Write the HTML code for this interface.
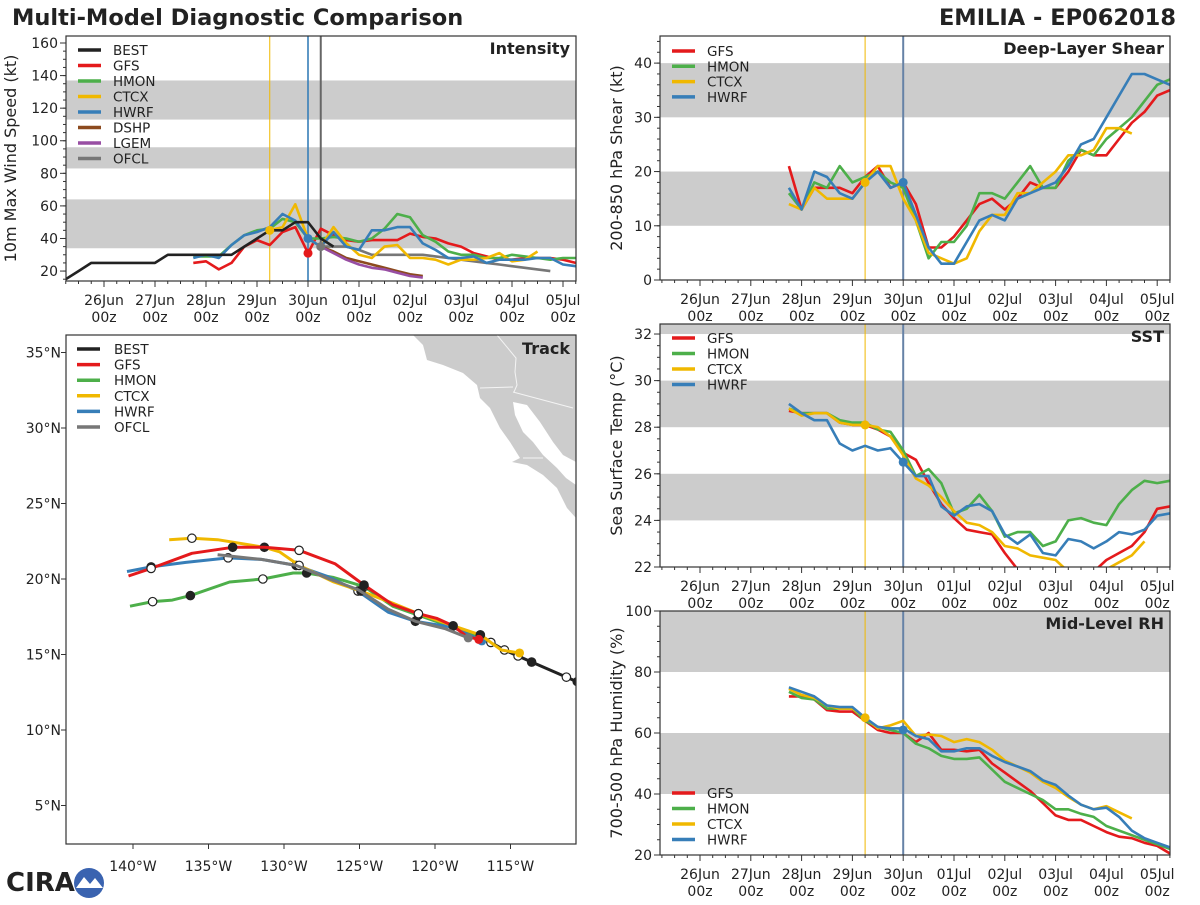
<!DOCTYPE html>
<html><head><meta charset="utf-8">
<style>
html,body{margin:0;padding:0;background:#fff;}
svg text{font-family:"DejaVu Sans","Liberation Sans",sans-serif;fill:#222;}
</style></head>
<body>
<svg id="chart" width="1200" height="900" viewBox="0 0 1200 900" xmlns="http://www.w3.org/2000/svg">
<rect width="1200" height="900" fill="#fff"/>
<text x="12" y="25" font-size="22.5" font-weight="bold" fill="#333">Multi-Model Diagnostic Comparison</text>
<text x="1176" y="25" font-size="22.5" font-weight="bold" text-anchor="end" fill="#333">EMILIA - EP062018</text>
<g id="logo">
<text x="6" y="891" font-size="26" font-weight="bold" fill="#2b4a8c" font-family="Liberation Serif,serif">CIRA</text>
<circle cx="89" cy="883" r="15" fill="#3a63b0"/>
<path d="M76,888 L84,877 L90,884 L95,878 L103,888 Z" fill="#fff"/>
</g>
</svg>
<script>
const NS='http://www.w3.org/2000/svg';
const svg=document.getElementById('chart');
function mk(tag,attrs,parent){const e=document.createElementNS(NS,tag);for(const k in attrs)e.setAttribute(k,attrs[k]);(parent||svg).appendChild(e);return e;}

// ---------- DATA ----------
const dateLabels=['26Jun','27Jun','28Jun','29Jun','30Jun','01Jul','02Jul','03Jul','04Jul','05Jul'];
const modelColors={BEST:'#222222',GFS:'#e41a1c',HMON:'#4daf4a',CTCX:'#f0b800',HWRF:'#377eb8',DSHP:'#8c4a1e',LGEM:'#984ea3',OFCL:'#777777'};
// Intensity (kt), 6-hourly, start day (0 = 26Jun 00z)
const intStart={BEST:-0.75,GFS:1.75,HMON:1.75,CTCX:3.25,HWRF:1.75,DSHP:4.25,LGEM:4.25,OFCL:4.25};
const intBEST=[15,20,25,25,25,25,25,25,30,30,30,30,30,30,35,40,45,45,50,50,40,35];
const intGFS=[25,26,21,25,35,39,36,44,47,31,46,42,39,38,39,39,39,43,41,40,37,35,31,29,27,27,28,28,28,27,25,24];
const intHMON=[29,29,29,36,42,45,46,52,50,40,40,41,40,38,40,46,55,53,42,38,32,30,30,28,28,30,29,28,27,28,28];
const intCTCX=[45,47,61,40,35,47,37,30,28,35,36,28,28,27,24,27,27,28,31,26,27,32];
const intHWRF=[28,30,28,36,42,44,47,55,51,40,35,44,35,33,45,45,47,47,37,33,28,28,29,25,27,27,27,28,28,24,23];
const intDSHP=[35,32,28,26,24,22,20,18,17];
const intLGEM=[35,31,27,24,22,21,19,17,16];
const intOFCL=[35,35,35,33,30,30,30,30,30,29,28,27,26,25,24,23,22,21,20];
const intBands=[[34,64],[83,96],[113,137]];
const intTicks=[20,40,60,80,100,120,140,160];
// Shear (kt), start 1.75
const shrGFS=[21,13,17,17,17,16,19,21,17,18,14,6,6,8,11,14,15,13,15,18,17,17,20,24,23,23,26,29,31,34,35];
const shrHMON=[16,13,18,17,21,18,19,20,18,17,11,4,7,7,10,16,16,15,18,21,17,17,22,24,23,26,28,30,33,36,37];
const shrCTCX=[14,13,17,15,15,15,18,21,21,15,11,5,4,3,4,9,12,12,16,16,18,20,23,23,24,28,28,27];
const shrHWRF=[17,13,20,19,16,15,18,20,17,18,12,6,3,3,7,11,12,11,15,16,17,18,21,25,26,30,34,38,38,37,36];
const shrBands=[[10,20],[30,40]];
const shrTicks=[0,10,20,30,40];
// SST (C), start 1.75
const sstGFS=[28.7,28.6,28.6,28.6,28.2,28.1,28.1,27.9,27.6,26.9,26.6,25.6,24.7,24.1,23.6,23.5,23.4,22.6,21.9,21.6,21.4,21.3,21.3,21.5,21.8,22.3,22.6,22.9,23.5,24.5,24.6];
const sstHMON=[28.8,28.6,28.6,28.6,28.3,28.2,28.2,27.9,27.8,27.0,25.9,26.2,25.6,24.3,24.5,25.1,24.4,23.3,23.5,23.5,22.9,23.1,24.0,24.1,23.9,23.8,24.7,25.3,25.7,25.6,25.7];
const sstCTCX=[28.8,28.5,28.6,28.6,28.2,28.1,28.1,28.0,27.6,26.8,25.8,25.5,25.0,24.4,23.9,23.8,23.5,22.9,22.8,22.5,22.4,22.3,21.8,21.5,21.6,21.9,22.2,22.5,23.1];
const sstHWRF=[29.0,28.6,28.3,28.3,27.3,27.0,27.2,27.0,27.1,26.5,25.9,25.9,24.6,24.2,24.6,24.7,24.4,23.4,23.0,23.4,22.6,22.5,23.2,23.1,22.8,23.1,23.5,23.4,23.6,24.2,24.3];
const sstBands=[[24,26],[28,30],[32,34]];
const sstTicks=[22,24,26,28,30,32];
// RH (%), start 1.75
const rhGFS=[72,72,71,67.5,67,67,64,61,60,60,57,60,54.5,54.5,54,54.5,50,47,44,41,37,33,31.5,31.5,29.5,27.5,26,25.5,24,23,20.5];
const rhHMON=[73.5,71.5,71,68,68,68,64,62,61,60,56.5,55,52.5,51.5,51.5,52,48,44,42,40,38,35,35,33.5,32.5,29.5,28,26.5,25,23.5,22];
const rhCTCX=[74.5,72.5,71.5,69,68,68,65,61.5,62.5,64,59,59.5,59,57,58,57,54.5,51,49,47,44,42,39,36.5,35,36,34,32];
const rhHWRF=[75,73.5,72,69,68.5,68.5,65,62,61.5,61.5,59,58,54,54,55,55,52.5,50.5,49,47.5,44.5,43,39.5,36.5,35,35.5,32.5,28,25.5,24,22.5];
const rhBands=[[40,60],[80,100]];
const rhTicks=[20,40,60,80,100];
// Track (deg W, deg N)
const trkBESTlon=[110.6,111.3,113.6,114.5,115.4,116.3,117.0];
const trkBESTlat=[13.2,13.5,14.5,14.9,15.3,15.8,16.3];
const trkGFSlon=[117.1,117.9,118.8,119.9,121.1,122.8,124.7,126.6,129.0,131.3,133.4,136.1,138.8,140.3];
const trkGFSlat=[16.0,16.2,16.9,17.4,17.7,18.3,19.6,21.0,21.9,22.1,22.1,21.7,20.7,20.2];
const trkHMONlon=[117.0,118.8,121.1,122.8,124.7,126.7,128.5,129.4,131.4,133.6,136.2,137.4,138.7,140.2];
const trkHMONlat=[16.1,16.8,17.6,18.2,19.5,20.1,20.4,20.4,20.0,19.8,18.9,18.6,18.5,18.2];
const trkCTCXlon=[114.4,115.6,117.0,118.8,121.1,122.8,124.9,126.7,129.0,130.3,131.3,134.4,136.1,137.6];
const trkCTCXlat=[15.1,15.3,16.3,16.9,17.7,18.4,19.2,19.8,20.9,21.8,22.1,22.6,22.7,22.6];
const trkHWRFlon=[116.9,118.8,121.3,123.1,125.1,127.2,129.2,131.5,133.7,136.5,138.8,140.4];
const trkHWRFlat=[15.9,16.8,17.2,17.8,19.2,20.2,20.9,21.3,21.4,21.1,20.8,20.5];
const trkOFCLlon=[117.8,119.3,121.3,123.1,125.1,127.0,129.2,131.5,134.4];
const trkOFCLlat=[16.1,16.7,17.2,18.0,19.3,20.0,20.9,21.3,21.6];
const lonTicks=[140,135,130,125,120,115];
const latTicks=[5,10,15,20,25,30,35];

// ---------- TIME PANELS ----------
function timePanel(p){
  const g=mk('g',{});
  
  
  const X=d=>p.dx0+d*p.pxDay;
  const Y=v=>p.y1-(v-p.vmin)/(p.vmax-p.vmin)*(p.y1-p.y0);
  const cid='clip-'+p.name;
  const cp=mk('clipPath',{id:cid},g);mk('rect',{x:p.x0,y:p.y0,width:p.x1-p.x0,height:p.y1-p.y0},cp);
  p.bands.forEach(b=>{const top=Math.max(Y(b[1]),p.y0);const r=mk('rect',{x:p.x0,y:top,width:p.x1-p.x0,height:Math.min(Y(b[0]),p.y1)-top,fill:'#cccccc'},g);
    });
  p.vlines.forEach(v=>{const l=mk('line',{x1:X(v[0]),x2:X(v[0]),y1:p.y0,y2:p.y1,stroke:v[1],'stroke-width':v[2]},g);
    });
  const sg=mk('g',{'clip-path':'url(#'+cid+')'},g);
  p.series.forEach(s=>{
    const pts=s.vals.map((v,i)=>X(s.start+i*0.25).toFixed(1)+','+Y(v).toFixed(1)).join(' ');
    const pl=mk('polyline',{points:pts,fill:'none',stroke:modelColors[s.key],'stroke-width':2.6,'stroke-linejoin':'round'},sg);
    
    
  });
  p.dots.forEach(d=>{const c=mk('circle',{cx:X(d[0]),cy:Y(d[1]),r:4.5,fill:modelColors[d[2]]},sg);
    });
  mk('rect',{x:p.x0,y:p.y0,width:p.x1-p.x0,height:p.y1-p.y0,fill:'none',stroke:'#333','stroke-width':1.2},g);
  p.yticks.forEach(v=>{const y=Y(v);mk('line',{x1:p.x0-6,x2:p.x0,y1:y,y2:y,stroke:'#333'},g);
    const t=mk('text',{x:p.x0-8,y:y+5,'font-size':14,'text-anchor':'end'},g);t.textContent=v;
    });
  for(let v=p.vmin-(p.vmin%p.minor);v<=p.vmax;v+=p.minor){if(v<p.vmin)continue;const y=Y(v);mk('line',{x1:p.x0-3,x2:p.x0,y1:y,y2:y,stroke:'#333'},g);}
  for(let d=-0.75;d<=9.26;d+=0.25){const x=X(d);const major=Math.abs(d-Math.round(d))<0.01;
    mk('line',{x1:x,x2:x,y1:p.y1,y2:p.y1+(major?6:3),stroke:'#333'},g);}
  dateLabels.forEach((lab,i)=>{const x=X(i);
    const t1=mk('text',{x:x,y:p.y1+24,'font-size':14,'text-anchor':'middle'},g);t1.textContent=lab;
    
    const t2=mk('text',{x:x,y:p.y1+41,'font-size':14,'text-anchor':'middle'},g);t2.textContent='00z';
    });
  const yl=mk('text',{x:0,y:0,'font-size':16,'text-anchor':'middle',transform:'translate('+p.ylx+','+((p.y0+p.y1)/2)+') rotate(-90)'},g);
  yl.textContent=p.ylabel;
  const tt=mk('text',{x:p.x1-6,y:p.y0+18,'font-size':16,'font-weight':'bold','text-anchor':'end',fill:'#333'},g);
  tt.textContent=p.title;
  p.legend.forEach((k,i)=>{const y=p.legY+i*p.legDy;
    const l=mk('line',{x1:p.x0+12,x2:p.x0+35,y1:y,y2:y,stroke:modelColors[k],'stroke-width':3.5},g);
    
    const t=mk('text',{x:p.x0+47,y:y+5,'font-size':13.5},g);t.textContent=k;
    });
}

const L={x0:66,x1:576,dx0:104,pxDay:51};
const R={x0:660,x1:1170,dx0:700,pxDay:50.8};
const vR=[[3.25,'#f0b800',1],[4.0,'#6682a6',2]];
timePanel(Object.assign({name:'intensity-panel',y0:36,y1:281,vmin:13.9,vmax:164.3,bands:intBands,yticks:intTicks,minor:5,
  vlines:[[3.25,'#f0b800',1],[4.0,'#377eb8',1.6],[4.25,'#666',2]],
  series:[{key:'OFCL',start:intStart.OFCL,vals:intOFCL},{key:'DSHP',start:intStart.DSHP,vals:intDSHP},{key:'LGEM',start:intStart.LGEM,vals:intLGEM},
    {key:'GFS',start:intStart.GFS,vals:intGFS},{key:'HMON',start:intStart.HMON,vals:intHMON},{key:'CTCX',start:intStart.CTCX,vals:intCTCX},
    {key:'HWRF',start:intStart.HWRF,vals:intHWRF},{key:'BEST',start:intStart.BEST,vals:intBEST}],
  dots:[[3.25,45,'CTCX'],[4.0,40,'HWRF'],[4.0,31,'GFS'],[4.25,35,'OFCL']],
  ylabel:'10m Max Wind Speed (kt)',ylx:16,title:'Intensity',legend:['BEST','GFS','HMON','CTCX','HWRF','DSHP','LGEM','OFCL'],legY:50,legDy:15.5},L));
timePanel(Object.assign({name:'shear-panel',y0:36,y1:280,vmin:0,vmax:45,bands:shrBands,yticks:shrTicks,minor:2,vlines:vR,
  series:[{key:'GFS',start:1.75,vals:shrGFS},{key:'HMON',start:1.75,vals:shrHMON},{key:'CTCX',start:1.75,vals:shrCTCX},{key:'HWRF',start:1.75,vals:shrHWRF}],
  dots:[[3.25,18,'CTCX'],[4.0,18,'HWRF']],
  ylabel:'200-850 hPa Shear (kt)',ylx:622,title:'Deep-Layer Shear',legend:['GFS','HMON','CTCX','HWRF'],legY:51,legDy:15.3},R));
timePanel(Object.assign({name:'sst-panel',y0:324,y1:567,vmin:22,vmax:32.43,bands:sstBands,yticks:sstTicks,minor:0.5,vlines:vR,
  series:[{key:'GFS',start:1.75,vals:sstGFS},{key:'HMON',start:1.75,vals:sstHMON},{key:'CTCX',start:1.75,vals:sstCTCX},{key:'HWRF',start:1.75,vals:sstHWRF}],
  dots:[[3.25,28.1,'CTCX'],[4.0,26.5,'HWRF']],
  ylabel:'Sea Surface Temp (°C)',ylx:622,title:'SST',legend:['GFS','HMON','CTCX','HWRF'],legY:338,legDy:15.5},R));
timePanel(Object.assign({name:'rh-panel',y0:611,y1:855,vmin:20,vmax:100,bands:rhBands,yticks:rhTicks,minor:5,vlines:vR,
  series:[{key:'GFS',start:1.75,vals:rhGFS},{key:'HMON',start:1.75,vals:rhHMON},{key:'CTCX',start:1.75,vals:rhCTCX},{key:'HWRF',start:1.75,vals:rhHWRF}],
  dots:[[3.25,65,'CTCX'],[4.0,61,'HWRF']],
  ylabel:'700-500 hPa Humidity (%)',ylx:622,title:'Mid-Level RH',legend:['GFS','HMON','CTCX','HWRF'],legY:793,legDy:15.5},R));

// ---------- TRACK PANEL ----------
(function(){
  const x0=66,x1=576,y0=335,y1=844;
  const LX=lon=>133+(140-lon)*15.1;
  const LY=lat=>579-(lat-20)*15.1;
  const g=mk('g',{});
  
  
  const cp=mk('clipPath',{id:'clip-track'},g);mk('rect',{x:x0,y:y0,width:x1-x0,height:y1-y0},cp);
  const cg=mk('g',{'clip-path':'url(#clip-track)'},g);
  const land=mk('g',{},cg);
  
  
  mk('polygon',{points:'413,335 423,345 427,360 443,365 463,373 477,385 480,398 490,408 500,428 510,442 520,458 512,462 527,465 543,475 557,488 567,508 576,518 576,335',fill:'#cccccc'},land);
  mk('polygon',{points:'513,402 527,405 540,422 553,442 563,455 576,462 576,485 566,478 557,468 543,455 533,442 523,432 515,415',fill:'#ffffff'},land);
  mk('polyline',{points:'497,335 516,358 515,372 517,385 514,392',fill:'none',stroke:'#f4f4f4','stroke-width':1},land);
  mk('polyline',{points:'480,388 513,387',fill:'none',stroke:'#f4f4f4','stroke-width':1},land);
  mk('polyline',{points:'513,392 573,408',fill:'none',stroke:'#f4f4f4','stroke-width':1},land);
  mk('polyline',{points:'523,458 543,458',fill:'none',stroke:'#f4f4f4','stroke-width':1},land);
  const tracks=[['BEST',trkBESTlon,trkBESTlat],['HMON',trkHMONlon,trkHMONlat],['HWRF',trkHWRFlon,trkHWRFlat],['CTCX',trkCTCXlon,trkCTCXlat],['GFS',trkGFSlon,trkGFSlat],['OFCL',trkOFCLlon,trkOFCLlat]];
  tracks.forEach(t=>{
    const pts=t[1].map((lon,i)=>LX(lon).toFixed(1)+','+LY(t[2][i]).toFixed(1)).join(' ');
    const pl=mk('polyline',{points:pts,fill:'none',stroke:modelColors[t[0]],'stroke-width':3,'stroke-linejoin':'round'},cg);
    
    
    if(t[0]!=='OFCL'){
      t[1].forEach((lon,i)=>{if(i%2===0&&i>0||t[0]==='BEST'&&i>0){
        const c=mk('circle',{cx:LX(lon),cy:LY(t[2][i]),r:4.2,fill:(i/2)%2===1?'#222':'#fff',stroke:'#222','stroke-width':1.2},cg);
        }});
    }
    const s=mk('circle',{cx:LX(t[1][0]),cy:LY(t[2][0]),r:4.5,fill:modelColors[t[0]]},cg);
    
  });
  mk('rect',{x:x0,y:y0,width:x1-x0,height:y1-y0,fill:'none',stroke:'#333','stroke-width':1.2},g);
  lonTicks.forEach(lon=>{const x=LX(lon);mk('line',{x1:x,x2:x,y1:y1,y2:y1+5,stroke:'#333'},g);
    const t=mk('text',{x:x,y:y1+27,'font-size':14,'text-anchor':'middle'},g);t.textContent=lon+'°W';
    });
  latTicks.forEach(lat=>{const y=LY(lat);mk('line',{x1:x0-5,x2:x0,y1:y,y2:y,stroke:'#333'},g);
    const t=mk('text',{x:x0-5,y:y+5,'font-size':14,'text-anchor':'end'},g);t.textContent=lat+'°N';
    });
  const tt=mk('text',{x:x1-6,y:y0+19,'font-size':16,'font-weight':'bold','text-anchor':'end',fill:'#333'},g);
  tt.textContent='Track';
  ['BEST','GFS','HMON','CTCX','HWRF','OFCL'].forEach((k,i)=>{const y=349+i*15.6;
    const l=mk('line',{x1:77,x2:100,y1:y,y2:y,stroke:modelColors[k],'stroke-width':3.5},g);
    
    const t=mk('text',{x:114,y:y+5,'font-size':13.5},g);t.textContent=k;
    });
})();
</script>
</body></html>
